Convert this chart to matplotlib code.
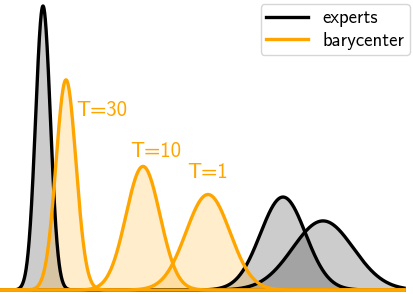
import numpy as np
import matplotlib
matplotlib.use("Agg")
import matplotlib.pyplot as plt

plt.rcParams['font.family'] = ['cmss10', 'DejaVu Sans']
plt.rcParams['axes.unicode_minus'] = False

# gaussian experts and their barycenters (mean, std)
expert_means = [0.0, 6.0, 7.0]
expert_stds = [0.185, 0.565, 0.76]

bary_means = [0.575, 2.5, 4.125]
bary_stds = [0.25, 0.425, 0.55]
bary_labels = ['T=30', 'T=10', 'T=1']

x_min, x_max = -1.075, 9.025


def gauss_pdf(x, mu, sigma):
    return np.exp(-0.5 * ((x - mu) / sigma) ** 2) / (sigma * np.sqrt(2 * np.pi))


x = np.linspace(x_min, x_max, 2000)

fig = plt.figure(figsize=(4.14, 2.94), dpi=100)
ax = fig.add_axes([0, 0, 1, 1])

for mu, sd in zip(expert_means, expert_stds):
    y = gauss_pdf(x, mu, sd)
    ax.fill_between(x, 0, y, color='black', alpha=0.2, linewidth=0)
    ax.plot(x, y, color='black', linewidth=2.4)

label_offsets = [(10, -36, 'left'), (13, 9, 'center'), (0, 17, 'center')]
for mu, sd, lab, (dx, dy, ha) in zip(bary_means, bary_stds, bary_labels, label_offsets):
    y = gauss_pdf(x, mu, sd)
    ax.fill_between(x, 0, y, color='orange', alpha=0.2, linewidth=0)
    ax.plot(x, y, color='orange', linewidth=2.4)
    ax.annotate(lab, xy=(mu, y.max()), xytext=(dx, dy),
                textcoords='offset pixels', ha=ha, va='baseline',
                color='orange', fontsize=15)

ax.plot([], [], color='black', linewidth=2.4, label='experts')
ax.plot([], [], color='orange', linewidth=2.4, label='barycenter')
ax.legend(loc='upper right', fontsize=13.5, handlelength=2.2, labelspacing=0.22,
          borderaxespad=0.2, borderpad=0.3, fancybox=True, framealpha=0.8)

ax.set_xlim(x_min, 9.275)
ax.set_ylim(-0.030, 2.202)
ax.axis('off')

fig.savefig('out.png', dpi=100)
